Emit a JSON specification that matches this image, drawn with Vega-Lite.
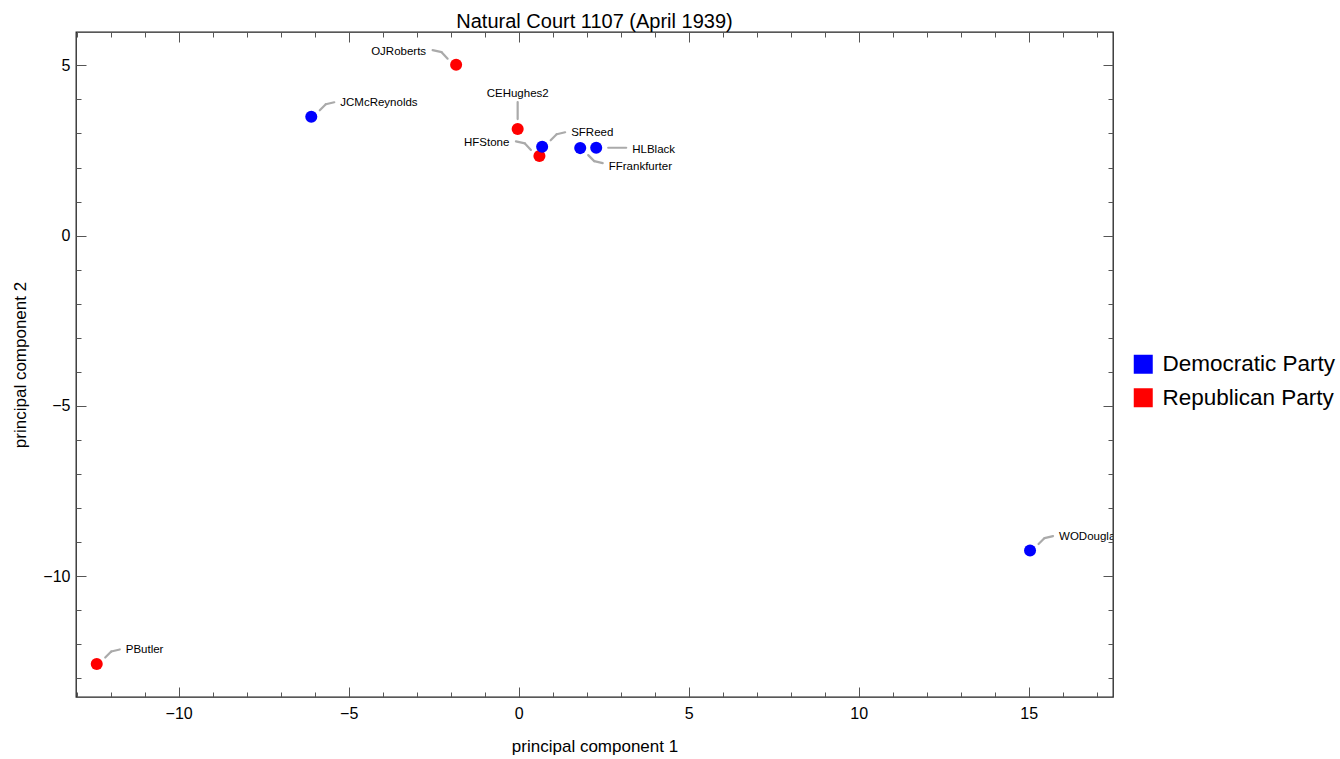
{
  "$schema": "https://vega.github.io/schema/vega-lite/v6.json",
  "autosize": {"type": "none"},
  "padding": {"left": 76, "top": 32, "right": 227, "bottom": 62},
  "width": 1037,
  "height": 665,
  "title": {"text": "Natural Court 1107 (April 1939)", "font": "Liberation Sans", "fontSize": 20, "fontWeight": "normal", "color": "#000", "offset": 0},
  "data": {"values": [
    {"name": "PButler", "x": -12.41, "y": -12.58, "party": "Republican Party"},
    {"name": "OJRoberts", "x": -1.84, "y": 5.02, "party": "Republican Party"},
    {"name": "JCMcReynolds", "x": -6.1, "y": 3.49, "party": "Democratic Party"},
    {"name": "CEHughes2", "x": -0.03, "y": 3.13, "party": "Republican Party"},
    {"name": "HFStone", "x": 0.61, "y": 2.34, "party": "Republican Party"},
    {"name": "SFReed", "x": 0.69, "y": 2.61, "party": "Democratic Party"},
    {"name": "FFrankfurter", "x": 1.81, "y": 2.57, "party": "Democratic Party"},
    {"name": "HLBlack", "x": 2.28, "y": 2.58, "party": "Democratic Party"},
    {"name": "WODouglas", "x": 15.04, "y": -9.25, "party": "Democratic Party"}
  ]},
  "encoding": {
    "x": {"field": "x", "type": "quantitative", "scale": {"domain": [-13.02, 17.48], "nice": false, "zero": false}, "axis": null},
    "y": {"field": "y", "type": "quantitative", "scale": {"domain": [-13.55, 5.98], "nice": false, "zero": false}, "axis": null}
  },
  "resolve": {"axis": {"x": "independent", "y": "independent"}},
  "layer": [
    {
      "transform": [{"filter": {"field": "name", "oneOf": ["JCMcReynolds", "SFReed", "WODouglas", "PButler"]}}],
      "mark": {"type": "rule", "clip": true, "color": "#aaaaaa", "strokeWidth": 2.2, "strokeCap": "round", "xOffset": 8.5, "yOffset": -6.5, "x2Offset": 14.5, "y2Offset": -12.5},
      "encoding": {"x2": {"field": "x"}, "y2": {"field": "y"}}
    },
    {
      "transform": [{"filter": {"field": "name", "oneOf": ["JCMcReynolds", "SFReed", "WODouglas", "PButler"]}}],
      "mark": {"type": "rule", "clip": true, "color": "#aaaaaa", "strokeWidth": 2.2, "strokeCap": "round", "xOffset": 14.5, "yOffset": -12.5, "x2Offset": 23, "y2Offset": -14.5},
      "encoding": {"x2": {"field": "x"}, "y2": {"field": "y"}}
    },
    {
      "transform": [{"filter": {"field": "name", "oneOf": ["OJRoberts", "HFStone"]}}],
      "mark": {"type": "rule", "clip": true, "color": "#aaaaaa", "strokeWidth": 2.2, "strokeCap": "round", "xOffset": -8.5, "yOffset": -6, "x2Offset": -14.5, "y2Offset": -12.5},
      "encoding": {"x2": {"field": "x"}, "y2": {"field": "y"}}
    },
    {
      "transform": [{"filter": {"field": "name", "oneOf": ["OJRoberts", "HFStone"]}}],
      "mark": {"type": "rule", "clip": true, "color": "#aaaaaa", "strokeWidth": 2.2, "strokeCap": "round", "xOffset": -14.5, "yOffset": -12.5, "x2Offset": -23.5, "y2Offset": -14.5},
      "encoding": {"x2": {"field": "x"}, "y2": {"field": "y"}}
    },
    {
      "transform": [{"filter": {"field": "name", "oneOf": ["CEHughes2"]}}],
      "mark": {"type": "rule", "clip": true, "color": "#aaaaaa", "strokeWidth": 2.2, "strokeCap": "round", "xOffset": 0, "yOffset": -10, "x2Offset": 0, "y2Offset": -27},
      "encoding": {"x2": {"field": "x"}, "y2": {"field": "y"}}
    },
    {
      "transform": [{"filter": {"field": "name", "oneOf": ["FFrankfurter"]}}],
      "mark": {"type": "rule", "clip": true, "color": "#aaaaaa", "strokeWidth": 2.2, "strokeCap": "round", "xOffset": 8, "yOffset": 7, "x2Offset": 14, "y2Offset": 13},
      "encoding": {"x2": {"field": "x"}, "y2": {"field": "y"}}
    },
    {
      "transform": [{"filter": {"field": "name", "oneOf": ["FFrankfurter"]}}],
      "mark": {"type": "rule", "clip": true, "color": "#aaaaaa", "strokeWidth": 2.2, "strokeCap": "round", "xOffset": 14, "yOffset": 13, "x2Offset": 22.5, "y2Offset": 15},
      "encoding": {"x2": {"field": "x"}, "y2": {"field": "y"}}
    },
    {
      "transform": [{"filter": {"field": "name", "oneOf": ["HLBlack"]}}],
      "mark": {"type": "rule", "clip": true, "color": "#aaaaaa", "strokeWidth": 2.2, "strokeCap": "round", "xOffset": 12, "yOffset": 0, "x2Offset": 30, "y2Offset": 0},
      "encoding": {"x2": {"field": "x"}, "y2": {"field": "y"}}
    },
    {
      "mark": {"type": "circle", "size": 145, "opacity": 1},
      "encoding": {
        "x": {"field": "x", "type": "quantitative", "scale": {"domain": [-13.02, 17.48], "nice": false, "zero": false},
          "axis": {"orient": "bottom", "values": [-13,-12,-11,-10,-9,-8,-7,-6,-5,-4,-3,-2,-1,0,1,2,3,4,5,6,7,8,9,10,11,12,13,14,15,16,17],
            "domain": false, "grid": false, "tickColor": "#555", "tickWidth": 1,
            "tickSize": {"condition": {"test": "datum.value % 5 === 0", "value": -10}, "value": -5},
            "labelExpr": "datum.value % 5 === 0 ? datum.label : ''", "labelOverlap": false, "labelFlush": false,
            "labelFont": "Liberation Sans", "labelFontSize": 16, "labelColor": "#000", "labelPadding": 18,
            "title": "principal component 1", "titleFont": "Liberation Sans", "titleFontSize": 17, "titleFontWeight": "normal", "titleColor": "#000", "titlePadding": 12}},
        "y": {"field": "y", "type": "quantitative", "scale": {"domain": [-13.55, 5.98], "nice": false, "zero": false},
          "axis": {"orient": "left", "values": [-13,-12,-11,-10,-9,-8,-7,-6,-5,-4,-3,-2,-1,0,1,2,3,4,5],
            "domain": false, "grid": false, "tickColor": "#555", "tickWidth": 1,
            "tickSize": {"condition": {"test": "datum.value % 5 === 0", "value": -10}, "value": -5},
            "labelExpr": "datum.value % 5 === 0 ? datum.label : ''", "labelOverlap": false, "labelFlush": false,
            "labelFont": "Liberation Sans", "labelFontSize": 16, "labelColor": "#000", "labelPadding": 16,
            "title": "principal component 2", "titleFont": "Liberation Sans", "titleFontSize": 17, "titleFontWeight": "normal", "titleColor": "#000", "titlePadding": 13}},
        "color": {"field": "party", "type": "nominal",
          "scale": {"domain": ["Democratic Party", "Republican Party"], "range": ["#0000ff", "#ff0000"]},
          "legend": {"title": null, "orient": "none", "legendX": 1056, "legendY": 321, "symbolType": "square", "symbolSize": 361, "symbolStrokeWidth": 0, "symbolOpacity": 1,
            "labelFont": "Liberation Sans", "labelFontSize": 22.5, "labelColor": "#000", "labelOffset": 8, "rowPadding": 10.5, "labelLimit": 400}}
      }
    },
    {
      "mark": {"type": "point", "opacity": 0},
      "encoding": {
        "x": {"field": "x", "type": "quantitative", "scale": {"domain": [-13.02, 17.48], "nice": false, "zero": false},
          "axis": {"orient": "top", "values": [-13,-12,-11,-10,-9,-8,-7,-6,-5,-4,-3,-2,-1,0,1,2,3,4,5,6,7,8,9,10,11,12,13,14,15,16,17],
            "domain": false, "grid": false, "tickColor": "#555", "tickWidth": 1,
            "tickSize": {"condition": {"test": "datum.value % 5 === 0", "value": -10}, "value": -5},
            "labels": false, "title": null}},
        "y": {"field": "y", "type": "quantitative", "scale": {"domain": [-13.55, 5.98], "nice": false, "zero": false},
          "axis": {"orient": "right", "values": [-13,-12,-11,-10,-9,-8,-7,-6,-5,-4,-3,-2,-1,0,1,2,3,4,5],
            "domain": false, "grid": false, "tickColor": "#555", "tickWidth": 1,
            "tickSize": {"condition": {"test": "datum.value % 5 === 0", "value": -10}, "value": -5},
            "labels": false, "title": null}}
      }
    },
    {
      "transform": [{"filter": {"field": "name", "oneOf": ["JCMcReynolds", "SFReed", "WODouglas", "PButler"]}}],
      "mark": {"type": "text", "clip": true, "align": "left", "baseline": "middle", "dx": 29, "dy": -13.5, "font": "Liberation Sans", "fontSize": 11.5, "color": "#000"},
      "encoding": {"text": {"field": "name"}}
    },
    {
      "transform": [{"filter": {"field": "name", "oneOf": ["FFrankfurter"]}}],
      "mark": {"type": "text", "clip": true, "align": "left", "baseline": "middle", "dx": 28.5, "dy": 18.5, "font": "Liberation Sans", "fontSize": 11.5, "color": "#000"},
      "encoding": {"text": {"field": "name"}}
    },
    {
      "transform": [{"filter": {"field": "name", "oneOf": ["OJRoberts", "HFStone"]}}],
      "mark": {"type": "text", "clip": true, "align": "right", "baseline": "middle", "dx": -30, "dy": -13, "font": "Liberation Sans", "fontSize": 11.5, "color": "#000"},
      "encoding": {"text": {"field": "name"}}
    },
    {
      "transform": [{"filter": {"field": "name", "oneOf": ["CEHughes2"]}}],
      "mark": {"type": "text", "clip": true, "align": "center", "baseline": "middle", "dx": 0, "dy": -35.5, "font": "Liberation Sans", "fontSize": 11.5, "color": "#000"},
      "encoding": {"text": {"field": "name"}}
    },
    {
      "transform": [{"filter": {"field": "name", "oneOf": ["HLBlack"]}}],
      "mark": {"type": "text", "clip": true, "align": "left", "baseline": "middle", "dx": 36, "dy": 2.5, "font": "Liberation Sans", "fontSize": 11.5, "color": "#000"},
      "encoding": {"text": {"field": "name"}}
    }
  ],
  "config": {
    "view": {"stroke": "#222", "strokeWidth": 1.3},
    "font": "Liberation Sans"
  }
}
